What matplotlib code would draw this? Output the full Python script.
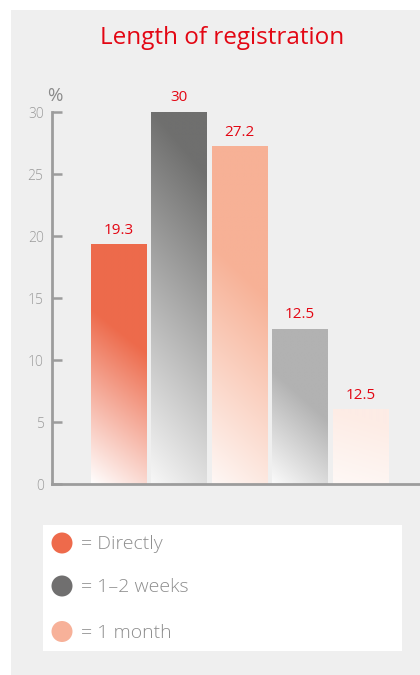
import numpy as np
import matplotlib
matplotlib.use("Agg")
import matplotlib.pyplot as plt
from matplotlib.patches import Rectangle, Ellipse
from matplotlib.colors import to_rgb

# ---- data ----
title = "Length of registration"
bar_heights = [19.3, 30.0, 27.2, 12.5, 6.0]
bar_labels = ["19.3", "30", "27.2", "12.5", "12.5"]
y_ticks = [0, 5, 10, 15, 20, 25, 30]
y_unit = "%"
legend_labels = ["= Directly", "= 1\u20132 weeks", "= 1 month"]

# ---- style ----
W, H = 420, 675
FONT = ["Open Sans", "DejaVu Sans"]
RED = "#e30613"
GRAYTXT = "#8e8e8e"
legend_colors = ["#ee6a4b", "#706f6f", "#f7b199"]
bar_top_colors = ["#ed6a4b", "#6f6f6e", "#f7b196", "#b2b2b2", "#fdece5"]
# gradient params per bar: (s0, L in px, k diagonal factor)
grad = [(0.0, 175, 0.8), (0.05, 395, 1.2), (0.09, 262, 0.95), (0.05, 120, 0.9), (0.35, 114, 0.3)]

fig = plt.figure(figsize=(W / 100, H / 100), dpi=100)
fig.patch.set_facecolor("white")

def px(x, y):
    return x / W, 1 - y / H

# gray panel
fig.add_artist(Rectangle(px(11, 675), (420 - 11) / W, (675 - 10) / H,
                         transform=fig.transFigure, facecolor="#efefef",
                         edgecolor="none", zorder=0))

# axes
ax_left, ax_right = 52, 419
ax_bottom, ax_top = 484, 112
ax = fig.add_axes([ax_left / W, 1 - ax_bottom / H, (ax_right - ax_left) / W,
                   (ax_bottom - ax_top) / H])
ax.set_facecolor("none")
spacing = 60.5
c0 = 118.5
xlim = (-(c0 - ax_left) / spacing, (ax_right - c0) / spacing)
ax.set_xlim(*xlim)
ax.set_ylim(0, 30)

x = np.arange(len(bar_heights))
width = 55.5 / spacing
bars = ax.bar(x, bar_heights, width=width, color="none", edgecolor="none", zorder=2)

ppx = spacing  # pixels per x unit
ppy = (ax_bottom - ax_top) / 30.0
for b, col, (s0, L, k) in zip(bars, bar_top_colors, grad):
    x0, w, h = b.get_x(), b.get_width(), b.get_height()
    ny, nx = 300, 80
    yy, xx = np.mgrid[0:ny, 0:nx]
    ypx = (yy + 0.5) / ny * h * ppy
    xpx = (xx + 0.5) / nx * w * ppx
    s = np.clip(s0 + (ypx + k * xpx) / L, 0, 1)[..., None]
    top = np.array(to_rgb(col))
    img = 1.0 + (top - 1.0) * s
    ax.imshow(img, extent=[x0, x0 + w, 0, h], origin="lower", aspect="auto",
              interpolation="bilinear", zorder=2)

ax.set_xlim(*xlim)
ax.set_ylim(0, 30)

for xi, hv, lab in zip(x, bar_heights, bar_labels):
    ax.annotate(lab, (xi, hv), xytext=(0, 5), textcoords="offset points",
                ha="center", va="bottom", color=RED, fontsize=11,
                family=FONT, zorder=3)

for sp in ["top", "right"]:
    ax.spines[sp].set_visible(False)
for sp in ["left", "bottom"]:
    ax.spines[sp].set_color("#9c9c9c")
    ax.spines[sp].set_linewidth(2.0)
    ax.spines[sp].set_zorder(4)
ax.set_xticks([])
ax.set_yticks(y_ticks)
ax.set_yticklabels([str(t) for t in y_ticks])
ax.tick_params(axis="y", direction="in", length=7.5, width=1.8, color="#9c9c9c",
               pad=6, labelsize=10, labelcolor="#9a9a9a")
for t in ax.get_yticklabels():
    t.set_family(FONT)
    t.set_fontweight("light")

# % label
fig.text(*px(55, 96), y_unit, ha="center", va="center", fontsize=13.5,
         color="#8a8a8a", family=FONT)

# title
fig.text(*px(222.5, 38), title, ha="center", va="center", fontsize=17.5,
         color=RED, family=FONT)

# legend box
fig.add_artist(Rectangle(px(43, 651), (402 - 43) / W, (651 - 525) / H,
                         transform=fig.transFigure, facecolor="white",
                         edgecolor="none", zorder=1))
row_y = [543, 586, 631.5]
for yv, lab, col in zip(row_y, legend_labels, legend_colors):
    fig.add_artist(Ellipse(px(62, yv), 21 / W, 21 / H, transform=fig.transFigure,
                           facecolor=col, edgecolor="none", zorder=2))
    fig.text(*px(81, yv + 1), lab, ha="left", va="center", fontsize=14,
             color=GRAYTXT, family=FONT, fontweight="light", zorder=3)

fig.savefig("out.png", dpi=100, facecolor=fig.get_facecolor())
